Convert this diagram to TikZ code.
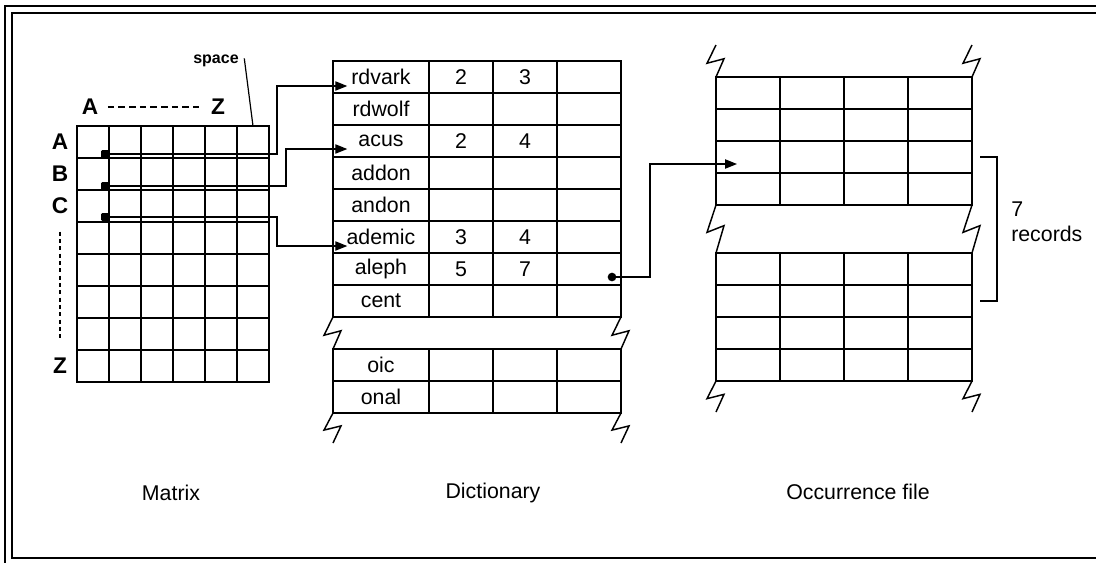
\documentclass[tikz,border=0pt]{standalone}
\usepackage{fontspec}
\setmainfont{Liberation Sans}
\usetikzlibrary{arrows.meta,calc}

\begin{document}
\begin{tikzpicture}[
    x=0.75pt, y=-0.75pt,
    every node/.style={font=\fontsize{16}{19}\selectfont, inner sep=0pt},
    tbl/.style={line width=1.1pt},
    word/.style={draw, line width=1.1pt, minimum width=72pt, minimum height=24pt},
    num/.style={draw, line width=1.1pt, minimum width=48pt, minimum height=24pt},
    letter/.style={font=\fontsize{17}{20}\selectfont\bfseries},
    mdot/.style={rectangle, rounded corners=1pt, fill, minimum size=6pt},
    ddot/.style={circle, fill, minimum size=6.5pt},
    link/.style={line width=0.9pt, -{Triangle[length=9pt,width=7pt]}},
    brk/.style={line width=1.1pt, to path={-- ($(\tikztostart)!0.57!(\tikztotarget)+(-9,0)$) -- ($(\tikztostart)!0.43!(\tikztotarget)+(8,0)$) -- (\tikztotarget)}},
]
\useasboundingbox (0,0) rectangle (1096,562);
\clip (0,0) rectangle (1096,562);

% Frame
\draw[line width=1.2pt] (1100,6) -- (5,6) -- (5,566);
\draw[line width=1.2pt] (1100,13) -- (12,13) -- (12,558) -- (1100,558);

% Matrix
\draw[tbl] (77,126) rectangle (269,382);
\draw[tbl] (109,126) -- (109,382) (141,126) -- (141,382) (173,126) -- (173,382)
           (205,126) -- (205,382) (237,126) -- (237,382);
\draw[tbl] (77,158) -- (269,158) (77,190) -- (269,190) (77,222) -- (269,222)
           (77,254) -- (269,254) (77,286) -- (269,286) (77,318) -- (269,318)
           (77,350) -- (269,350);

% Matrix labels
\node[letter] (cA) at (90,107) {A};
\node[letter] (cZ) at (218,107) {Z};
\draw[line width=0.9pt, dash pattern=on 5pt off 3pt, shorten <=7pt, shorten >=9pt] (cA) -- (cZ);
\node[letter] (rA) at (60,142) {A};
\node[letter] (rB) at (60,174) {B};
\node[letter] (rC) at (60,206) {C};
\node[letter] (rZ) at (60,366) {Z};
\draw[line width=0.9pt, dash pattern=on 3pt off 2.5pt, shorten <=13pt, shorten >=14pt] (rC) -- (rZ);
\node[font=\fontsize{12}{14}\selectfont\bfseries] (space) at (216,61) {space};
\coordinate (spc) at (253,126);
\draw[line width=0.9pt] ([xshift=4pt,yshift=2pt]space.east) -- (spc);

% Dictionary, upper part
\node[word] (rdvark)   at (381,77)  {rdvark};
\node[num]  (rdvark-1) at (461,77)  {2};
\node[num]  (rdvark-2) at (525,77)  {3};
\node[num]  (rdvark-3) at (589,77)  {};
\node[word] (rdwolf)   at (381,109) {rdwolf};
\node[num]  (rdwolf-1) at (461,109) {};
\node[num]  (rdwolf-2) at (525,109) {};
\node[num]  (rdwolf-3) at (589,109) {};
\node[word] (acus)     at (381,141) {acus};
\node[num]  (acus-1)   at (461,141) {2};
\node[num]  (acus-2)   at (525,141) {4};
\node[num]  (acus-3)   at (589,141) {};
\node[word] (addon)    at (381,173) {addon};
\node[num]  (addon-1)  at (461,173) {};
\node[num]  (addon-2)  at (525,173) {};
\node[num]  (addon-3)  at (589,173) {};
\node[word] (andon)    at (381,205) {andon};
\node[num]  (andon-1)  at (461,205) {};
\node[num]  (andon-2)  at (525,205) {};
\node[num]  (andon-3)  at (589,205) {};
\node[word] (ademic)   at (381,237) {ademic};
\node[num]  (ademic-1) at (461,237) {3};
\node[num]  (ademic-2) at (525,237) {4};
\node[num]  (ademic-3) at (589,237) {};
\node[word] (aleph)    at (381,269) {aleph};
\node[num]  (aleph-1)  at (461,269) {5};
\node[num]  (aleph-2)  at (525,269) {7};
\node[num]  (aleph-3)  at (589,269) {};
\node[word] (cent)     at (381,301) {cent};
\node[num]  (cent-1)   at (461,301) {};
\node[num]  (cent-2)   at (525,301) {};
\node[num]  (cent-3)   at (589,301) {};

% Dictionary, lower part
\node[word] (oic)      at (381,365) {oic};
\node[num]  (oic-1)    at (461,365) {};
\node[num]  (oic-2)    at (525,365) {};
\node[num]  (oic-3)    at (589,365) {};
\node[word] (onal)     at (381,397) {onal};
\node[num]  (onal-1)   at (461,397) {};
\node[num]  (onal-2)   at (525,397) {};
\node[num]  (onal-3)   at (589,397) {};

% Dictionary breaks
\draw[brk] (333,317) to (333,349);
\draw[brk] (621,317) to (621,349);
\draw[brk] (333,413) to (333,443);
\draw[brk] (621,413) to (621,443);

% Occurrence file
\draw[tbl] (716,77) rectangle (972,205);
\draw[tbl] (780,77) -- (780,205) (844,77) -- (844,205) (908,77) -- (908,205);
\draw[tbl] (716,109) -- (972,109) (716,141) -- (972,141) (716,173) -- (972,173);
\draw[tbl] (716,253) rectangle (972,381);
\draw[tbl] (780,253) -- (780,381) (844,253) -- (844,381) (908,253) -- (908,381);
\draw[tbl] (716,285) -- (972,285) (716,317) -- (972,317) (716,349) -- (972,349);

% Occurrence breaks
\draw[brk] (716,45) to (716,77);
\draw[brk] (972,45) to (972,77);
\draw[brk] (716,205) to (716,253);
\draw[brk] (972,205) to (972,253);
\draw[brk] (716,381) to (716,412);
\draw[brk] (972,381) to (972,412);

% Pointers
\node[mdot] (mA) at (105,154) {};
\node[mdot] (mB) at (105,186) {};
\node[mdot] (mC) at (105,217) {};
\node[ddot] (al) at (612,277) {};
\coordinate (rec) at (737,164);
\draw[link] (mA.center) -- ++(172,0) |- ($(rdvark.west)+(15,9)$);
\draw[link] (mB.center) -- ++(181,0) |- ($(acus.west)+(15,8)$);
\draw[link] (mC.center) -- ++(172,0) |- ($(ademic.west)+(15,9)$);
\draw[link] (al.center) -- ++(38,0) |- (rec);

% Records bracket
\draw[line width=0.9pt] (980,157) -- (997,157) -- (997,301) -- (980,301);
\node[anchor=west, align=left] (recs) at (1011,222) {7\\records};

% Captions
\node (capM) at (171,493) {Matrix};
\node (capD) at (493,493) {Dictionary};
\node (capO) at (858,492) {Occurrence file};

\end{tikzpicture}
\end{document}
